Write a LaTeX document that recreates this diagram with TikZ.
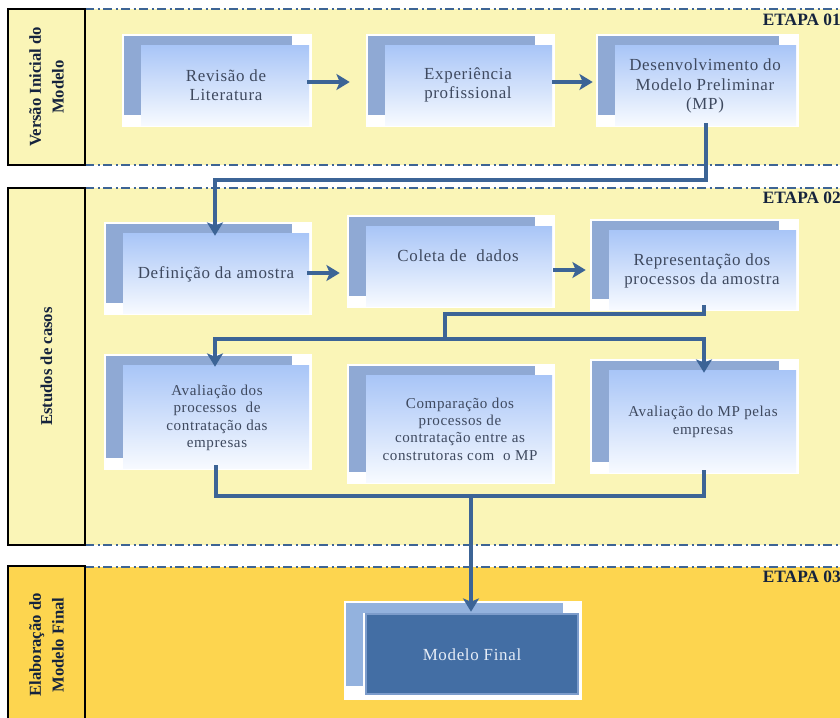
\documentclass[tikz,border=0pt]{standalone}
\usepackage{fontspec}
\setmainfont{Liberation Serif}
\newfontfamily\cardfont[LetterSpace=4]{Liberation Serif}
\usetikzlibrary{calc,arrows.meta}

\definecolor{bandpale}{HTML}{FAF5B7}
\definecolor{bandgold}{HTML}{FDD54F}
\definecolor{dashblue}{HTML}{3D6494}
\definecolor{flowblue}{HTML}{3C6496}
\definecolor{stripblue}{HTML}{8FA9D4}
\definecolor{gradtop}{HTML}{A8C5F7}
\definecolor{gradbot}{HTML}{F7FAFF}
\definecolor{cardtext}{HTML}{3E495F}
\definecolor{navy}{HTML}{15233D}
\definecolor{finalblue}{HTML}{436EA4}
\definecolor{finalstrip}{HTML}{93B2DE}
\definecolor{finaledge}{HTML}{7C9CCB}
\definecolor{finaltext}{HTML}{E6EDF7}

\tikzset{
  card/.style 2 args={fill=white, inner sep=0pt,
    minimum width=#1*0.75pt, minimum height=#2*0.75pt,
    path picture={
      \fill[stripblue] ($(path picture bounding box.north west)+(2,2)$)
        rectangle ($(path picture bounding box.north east)+(-20,11)$);
      \fill[stripblue] ($(path picture bounding box.north west)+(2,2)$)
        rectangle ($(path picture bounding box.south west)+(19,-12)$);
      \shade[top color=gradtop, bottom color=gradbot]
        ($(path picture bounding box.north west)+(19,11)$)
        rectangle ($(path picture bounding box.south east)+(-3,-2)$);
    }},
  finalcard/.style 2 args={fill=white, inner sep=0pt,
    minimum width=#1*0.75pt, minimum height=#2*0.75pt,
    path picture={
      \fill[finalstrip] ($(path picture bounding box.north west)+(2,2)$)
        rectangle ($(path picture bounding box.north east)+(-19,12)$);
      \fill[finalstrip] ($(path picture bounding box.north west)+(2,2)$)
        rectangle ($(path picture bounding box.south west)+(19,-14)$);
      \filldraw[fill=finalblue, draw=finaledge, line width=1pt]
        ($(path picture bounding box.north west)+(22,13)$)
        rectangle ($(path picture bounding box.south east)+(-4,-6)$);
    }},
  cardlabel/.style={font=\cardfont\fontsize{12.7}{14.5}\selectfont,
    text=cardtext, align=center, inner sep=0pt},
  smalllabel/.style={font=\cardfont\fontsize{11.3}{13}\selectfont,
    text=cardtext, align=center, inner sep=0pt},
  bandlabel/.style 2 args={rotate=90, draw=black, line width=1.5pt,
    minimum width=#1*0.75pt, minimum height=#2*0.75pt, inner sep=0pt,
    align=center, text=navy, font=\bfseries\fontsize{12.5}{17}\selectfont},
  etapa/.style={anchor=east, inner sep=0pt, text=navy,
    font=\bfseries\fontsize{13}{15}\selectfont},
  bandedge/.style={draw=dashblue, line width=1pt,
    dash pattern=on 7pt off 2.5pt on 1.5pt off 2.5pt},
  link/.style={draw=flowblue, line width=3pt},
  flow/.style={draw=flowblue, line width=3.2pt,
    -{Stealth[length=10pt, width=12pt, inset=2.5pt]}},
}

\begin{document}
\begin{tikzpicture}[x=0.75pt, y=-0.75pt]
\useasboundingbox (0,0) rectangle (840,718);

% stage bands
\fill[bandpale] (85,9) rectangle (840,165);
\fill[bandpale] (85,188) rectangle (840,545);
\fill[bandgold] (85,567) rectangle (840,718);
\draw[bandedge] (85,9) -- (840,9);
\draw[bandedge] (85,165) -- (840,165);
\draw[bandedge] (85,188) -- (840,188);
\draw[bandedge, line width=1.6pt] (85,545) -- (840,545);
\draw[bandedge] (85,567) -- (840,567);

\node[bandlabel={156}{77}, fill=bandpale] (lab1) at (46.5,87)
  {Versão Inicial do\\Modelo};
\node[bandlabel={357}{77}, fill=bandpale] (lab2) at (46.5,366.5)
  {Estudos de casos};
\node[bandlabel={158}{77}, fill=bandgold] (lab3) at (46.5,645)
  {Elaboração do\\Modelo Final};

\node[etapa] (et1) at (841,20) {ETAPA 01};
\node[etapa] (et2) at (841,198) {ETAPA 02};
\node[etapa] (et3) at (841,577) {ETAPA 03};

% stage 01
\node[card={190}{93}] (rev) at (217,80.5) {};
\node[card={189}{93}] (exp) at (460.5,80.5) {};
\node[card={203}{93}] (des) at (697.5,80.5) {};
\node[cardlabel] (rev-t) at (226,85) {Revisão de\\Literatura};
\node[cardlabel] (exp-t) at (468,85) {Experiência\\profissional};
\node[cardlabel] (des-t) at (705,86) {Desenvolvimento do\\Modelo Preliminar\\(MP)};

% stage 02
\node[card={208}{93}] (def) at (208,268.5) {};
\node[card={208}{93}] (col) at (451,261.5) {};
\node[card={209}{92}] (rep) at (694.5,265) {};
\node[cardlabel] (def-t) at (216,274) {Definição da amostra};
\node[cardlabel] (col-t) at (458,256) {Coleta de~ dados};
\node[cardlabel] (rep-t) at (702,271) {Representação dos\\processos da amostra};

\node[card={208}{116}] (ava) at (208,412) {};
\node[card={208}{120}] (com) at (451,424) {};
\node[card={209}{115}] (amp) at (694.5,416.5) {};
\node[smalllabel] (ava-t) at (217,418)
  {Avaliação dos\\processos~ de\\contratação das\\empresas};
\node[smalllabel] (com-t) at (460,429)
  {Comparação dos\\processos de\\contratação entre as\\construtoras com~ o MP};
\node[smalllabel] (amp-t) at (703,422) {Avaliação do MP pelas\\empresas};

% stage 03
\node[finalcard={238}{99}] (fin) at (463,650.5) {};
\node[cardlabel, text=finaltext] (fin-t) at (472,655) {Modelo Final};

% connectors
\coordinate (lvl1) at (0,180);
\coordinate (lvl2) at (0,314);
\coordinate (fork) at (445,339);
\coordinate (lvl3) at (0,496);
\coordinate (merge) at (471,496);

\draw[flow] ($(rev.east)+(-5,1.5)$) -- ($(exp.west)+(-16,1.5)$);
\draw[flow] ($(exp.east)+(-3,1.5)$) -- ($(des.west)+(-3,1.5)$);
\draw[flow] ($(des.south)+(8.5,-4)$) coordinate (d1)
  -- (d1 |- lvl1) -| ($(def.north)+(7,14)$);

\draw[flow] ($(def.east)+(-5,4.5)$) coordinate (a2)
  -- ($(a2 -| col.west)+(-7,0)$);
\draw[flow] ($(col.east)+(-2,8.5)$) coordinate (a3)
  -- ($(a3 -| rep.west)+(-4,0)$);

\draw[link] ($(rep.south)+(9.5,-6)$) coordinate (r1)
  -- (r1 |- lvl2) -| (fork);
\draw[flow] (fork) -| ($(ava.north)+(7,13)$);
\draw[flow] (fork) -| ($(amp.north)+(9.5,14)$);

\draw[link] ($(ava.south)+(8,-5)$) coordinate (m1)
  -- (m1 |- lvl3) -| ($(amp.south)+(9.5,-4)$);
\draw[flow] (merge) -- ($(fin.north)+(8,11)$);
\end{tikzpicture}
\end{document}
